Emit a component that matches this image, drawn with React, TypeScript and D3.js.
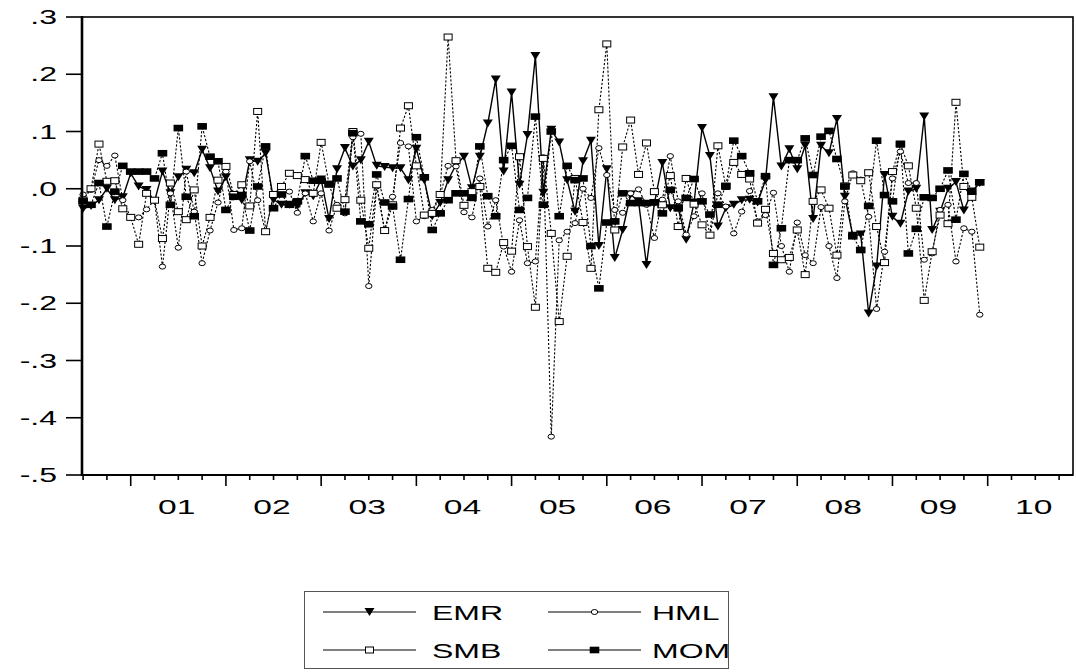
import React from "react";
import * as d3 from "d3";

// Monthly observations starting 2000m7
const START_YEAR = 2000;
const START_MONTH = 7;
const AXIS_MONTHS = 126; // 2000m7 .. 2010m12

const EMR = [
  -0.035, -0.03, -0.02, 0.0, -0.02, -0.015, 0.027, 0.004, -0.002, -0.022,
  0.03, -0.008, 0.02, 0.033, 0.027, 0.068, 0.036, -0.005, 0.02, -0.014,
  -0.02, 0.05, 0.047, 0.062, -0.019, -0.028, -0.028, -0.03, -0.008, -0.013,
  0.016, -0.053, 0.034, 0.071, 0.039, 0.05, 0.082, 0.04, 0.038, 0.036,
  0.036, 0.015, 0.07, 0.015, -0.048, -0.025, 0.015, 0.042, 0.056, 0.001,
  0.056, 0.114, 0.191, 0.03, 0.168, 0.007, 0.094, 0.232, -0.007, 0.103,
  0.081, 0.015, -0.04, 0.048, 0.084, -0.1, 0.034, -0.121, -0.072, -0.01,
  -0.022, -0.133, -0.025, 0.045, -0.034, -0.034, -0.089, -0.024, 0.106, 0.057,
  -0.066, -0.034, -0.028, -0.02, -0.019, -0.024, 0.015, 0.16, 0.039, 0.069,
  0.034, 0.075, -0.053, 0.075, 0.062, 0.122, -0.014, -0.082, -0.08, -0.218,
  -0.136, 0.024, -0.049, -0.061, -0.005, 0.0, 0.126, -0.072, -0.04, 0.0,
  0.012, -0.038, -0.005, 0.01,
];

const HML = [
  -0.01, -0.002, 0.05, 0.04, 0.058, -0.02, -0.05, -0.05, -0.036, -0.02,
  -0.136, -0.008, -0.103, 0.03, -0.04, -0.13, -0.073, -0.024, 0.03, -0.072,
  -0.069, 0.048, -0.02, -0.075, -0.01, 0.004, -0.005, -0.042, -0.008, -0.057,
  -0.008, -0.073, -0.028, -0.043, 0.09, 0.096, -0.17, 0.004, -0.073, -0.014,
  0.08, 0.074, -0.057, -0.048, -0.037, -0.011, 0.04, 0.039, -0.041, -0.05,
  0.018, -0.066, -0.02, -0.101, -0.145, -0.055, -0.13, -0.127, 0.055, -0.433,
  -0.09, -0.075, -0.06, 0.0, -0.016, 0.071, 0.024, -0.037, -0.042, -0.008,
  -0.001, -0.028, -0.086, -0.019, 0.057, -0.022, -0.08, -0.048, -0.008, -0.082,
  -0.008, -0.031, -0.078, -0.04, -0.004, -0.057, -0.046, -0.007, -0.1, -0.145,
  -0.059, -0.116, -0.13, -0.032, -0.1, -0.156, -0.022, 0.027, 0.016, -0.049,
  -0.21, -0.11, 0.018, 0.065, 0.01, 0.01, -0.124, -0.113, -0.037, -0.028,
  -0.127, -0.069, -0.075, -0.22,
];

const SMB = [
  -0.02, 0.0, 0.078, 0.013, 0.014, -0.035, -0.05, -0.097, -0.008, -0.02,
  -0.087, 0.01, -0.04, -0.054, -0.002, -0.1, -0.05, 0.015, 0.039, -0.01,
  0.007, -0.03, 0.135, -0.075, -0.01, 0.004, 0.027, 0.023, 0.016, -0.008,
  0.081, 0.008, -0.034, -0.019, 0.1, -0.02, -0.104, 0.007, -0.073, -0.028,
  0.106, 0.145, 0.04, -0.046, -0.043, -0.01, 0.265, 0.049, -0.029, -0.005,
  0.004, -0.139, -0.146, -0.094, -0.109, 0.056, -0.101, -0.207, 0.053, -0.078,
  -0.232, -0.118, 0.018, -0.059, -0.139, 0.138, 0.253, -0.072, 0.073, 0.12,
  0.025, 0.08, -0.005, -0.028, 0.023, -0.066, 0.018, -0.027, -0.063, -0.081,
  0.075, 0.004, 0.046, 0.025, 0.017, -0.06, -0.036, -0.113, -0.124, -0.12,
  -0.072, -0.15, -0.022, -0.002, -0.034, -0.116, 0.005, 0.024, 0.014, 0.028,
  -0.066, -0.129, 0.03, 0.078, 0.04, -0.034, -0.195, -0.11, -0.046, -0.061,
  0.151, 0.004, -0.015, -0.102,
];

const MOM = [
  -0.022, -0.028, 0.01, -0.066, -0.005, 0.04, 0.03, 0.03, 0.03, 0.018,
  0.062, -0.028, 0.106, -0.014, -0.048, 0.109, 0.056, 0.048, -0.037, -0.014,
  -0.011, -0.073, 0.004, 0.074, -0.034, -0.01, -0.028, -0.022, 0.057, 0.014,
  0.014, 0.008, 0.018, -0.04, 0.097, -0.057, -0.062, 0.025, -0.024, -0.031,
  -0.124, -0.018, 0.09, 0.02, -0.072, -0.043, -0.02, -0.008, -0.008, -0.016,
  0.074, -0.013, -0.048, 0.05, 0.075, -0.037, -0.016, 0.126, -0.028, 0.1,
  -0.048, 0.04, 0.015, 0.018, -0.1, -0.174, -0.059, -0.057, -0.008, -0.025,
  -0.025, -0.025, -0.024, -0.043, -0.002, -0.034, -0.016, 0.017, -0.022, -0.045,
  -0.028, 0.005, 0.084, 0.057, 0.027, -0.022, 0.022, -0.133, -0.069, 0.05,
  0.05, 0.088, 0.024, 0.091, 0.101, 0.052, 0.004, -0.083, -0.107, -0.03,
  0.084, -0.011, -0.022, 0.078, -0.113, -0.07, -0.015, -0.016, 0.0, 0.032,
  -0.054, 0.026, -0.005, 0.011,
];

const YEAR_LABELS = ["01", "02", "03", "04", "05", "06", "07", "08", "09", "10"];
const Y_TICKS = [0.3, 0.2, 0.1, 0.0, -0.1, -0.2, -0.3, -0.4, -0.5];

type Series = { name: string; values: number[]; marker: string; dashed: boolean };
const SERIES: Series[] = [
  { name: "EMR", values: EMR, marker: "tri", dashed: false },
  { name: "HML", values: HML, marker: "circle", dashed: true },
  { name: "SMB", values: SMB, marker: "openSq", dashed: true },
  { name: "MOM", values: MOM, marker: "fillSq", dashed: true },
];

const FONT = "'Liberation Sans', Arial, sans-serif";
const SX = 1.6;

function fmtTick(v: number) {
  const t = Math.round(Math.abs(v) * 10);
  return (v < -1e-9 ? "-" : "") + "." + t;
}

function Marker({ kind, x, y }: { kind: string; x: number; y: number }) {
  if (kind === "tri")
    return <path d={`M${x - 5},${y - 4}L${x + 5},${y - 4}L${x},${y + 4}Z`} fill="#000" />;
  if (kind === "circle")
    return <ellipse cx={x} cy={y} rx={3.2} ry={2.5} fill="#fff" stroke="#000" strokeWidth={1} />;
  if (kind === "openSq")
    return <rect x={x - 4} y={y - 3} width={8} height={6} fill="#fff" stroke="#000" strokeWidth={1} />;
  return <rect x={x - 4.8} y={y - 3.3} width={9.6} height={6.6} fill="#000" />;
}

function Txt({ x, y, anchor, children, size = 20 }: any) {
  return (
    <text
      transform={`translate(${x},${y}) scale(${SX},1)`}
      textAnchor={anchor}
      fontFamily={FONT}
      fontSize={size}
      fill="#000"
    >
      {children}
    </text>
  );
}

export default function App() {
  const left = 82, right = 1073, top = 17, bottom = 475;
  const x = d3.scaleLinear().domain([0, AXIS_MONTHS - 1]).range([83.1, 83.1 + 7.935 * (AXIS_MONTHS - 1)]);
  const y = d3.scaleLinear().domain([-0.5, 0.3]).range([bottom, top]);

  const line = d3
    .line<number>()
    .x((_, i) => x(i))
    .y((d) => y(d));

  const quarterTicks = d3.range(0, AXIS_MONTHS, 3);
  const firstJan = (13 - START_MONTH) % 12; // index of 2001m1

  const legendRows = [
    [SERIES[0], SERIES[1]],
    [SERIES[2], SERIES[3]],
  ];

  return (
    <div style={{ position: "fixed", left: 0, top: 0 }}>
      <svg width={1076} height={672} style={{ display: "block", background: "#fff" }}>
        <rect width={1076} height={672} fill="#fff" />
        {/* series */}
        {SERIES.map((s) => (
          <g key={s.name}>
            <path
              d={line(s.values) || ""}
              fill="none"
              stroke="#000"
              strokeWidth={s.dashed ? 1.1 : 1.4}
              strokeDasharray={s.dashed ? "2.2,1.8" : undefined}
            />
          </g>
        ))}
        {SERIES.map((s) => (
          <g key={s.name + "m"}>
            {s.values.map((v, i) => (
              <Marker key={i} kind={s.marker} x={x(i)} y={y(v)} />
            ))}
          </g>
        ))}
        {/* frame */}
        <rect x={left} y={top} width={right - left} height={bottom - top} fill="none" stroke="#000" strokeWidth={1.6} />
        <line x1={left} x2={left} y1={top - 1} y2={bottom + 1} stroke="#000" strokeWidth={2.6} />
        <line x1={left} x2={right} y1={bottom} y2={bottom} stroke="#000" strokeWidth={2} />
        {/* y axis */}
        {Y_TICKS.map((t) => (
          <g key={t}>
            <line x1={66} x2={left} y1={y(t)} y2={y(t)} stroke="#000" strokeWidth={1.6} />
            <Txt x={57} y={y(t) + 7} anchor="end">{fmtTick(t)}</Txt>
          </g>
        ))}
        {/* x axis */}
        {quarterTicks.map((q) => {
          const major = (q - firstJan) % 12 === 0;
          return (
            <line key={q} x1={x(q)} x2={x(q)} y1={bottom} y2={bottom + (major ? 11 : 5)} stroke="#000" strokeWidth={1.6} />
          );
        })}
        {YEAR_LABELS.map((lab, k) => (
          <Txt key={lab} x={x(firstJan + 12 * k + 5.8)} y={514} anchor="middle" size={21}>{lab}</Txt>
        ))}
        {/* legend */}
        <rect x={304.5} y={591.5} width={424} height={77} fill="#fff" stroke="#555" strokeWidth={1} />
        {legendRows.map((row, r) =>
          row.map((s, c) => {
            const lx1 = c === 0 ? 323 : 548;
            const lx2 = lx1 + 93;
            const ly = r === 0 ? 612 : 650;
            return (
              <g key={s.name + "leg"}>
                <line x1={lx1} x2={lx2} y1={ly} y2={ly} stroke="#000" strokeWidth={1} />
                <Marker kind={s.marker} x={(lx1 + lx2) / 2} y={ly} />
                <Txt x={c === 0 ? 432 : 652} y={ly + 7.5} anchor="start">{s.name}</Txt>
              </g>
            );
          })
        )}
      </svg>
    </div>
  );
}
